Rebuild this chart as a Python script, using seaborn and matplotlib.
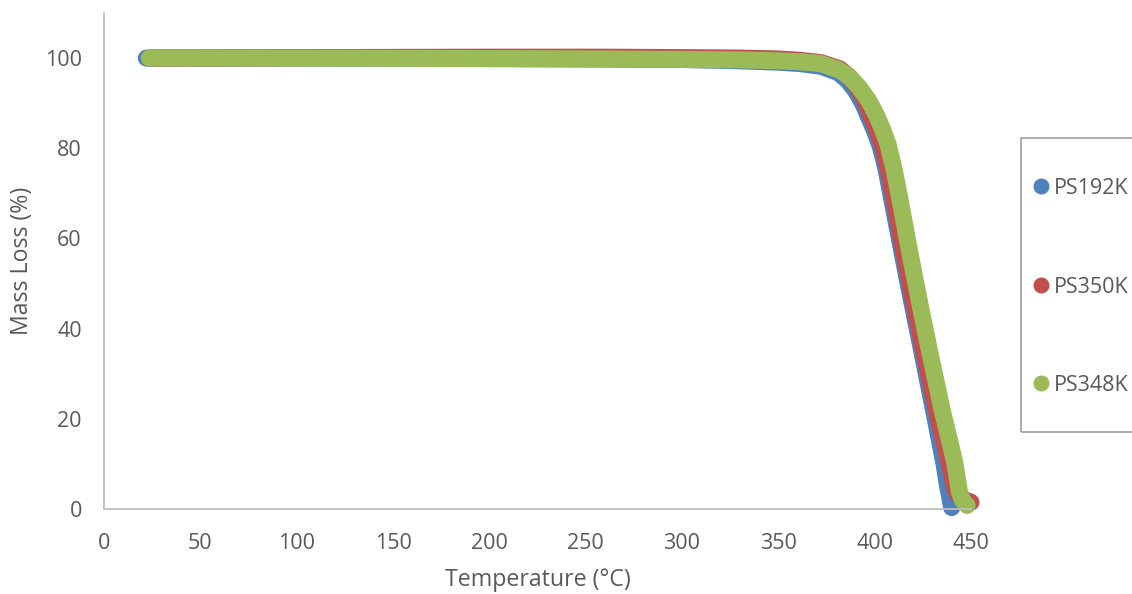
import numpy   as np
import pandas  as pd
import seaborn as sns

from matplotlib         import pyplot as plt
from matplotlib.lines   import Line2D
from matplotlib.patches import Rectangle

sns.set_style("white")
plt.rcParams['font.family'] = ['Open Sans', 'DejaVu Sans']

# TGA curves: temperature (°C) vs mass (%)
temp_192 = [22, 100, 200, 260, 300, 330, 350, 361, 372, 381, 386, 390, 394, 397, 400, 403,
            406, 409, 414, 419, 424, 431, 436, 437.5, 439, 440]
mass_192 = [100, 100, 99.9, 99.8, 99.7, 99.4, 99.1, 98.8, 98.2, 96.8, 95.0, 92.8, 89.8, 86.8, 83.8, 80.3,
            75.2, 68.5, 57.4, 46.5, 36, 21, 10, 6, 2.5, 0.3]

temp_350 = [23.5, 100, 200, 260, 300, 330, 350, 361, 372, 382, 387, 391, 395, 398, 401, 404,
            407, 410, 415, 420, 425, 432, 438.5, 440.5, 442, 444, 447, 450]
mass_350 = [100, 100.1, 100.2, 100.2, 100.1, 100, 99.8, 99.5, 99, 97.6, 95.8, 93.5, 90.5, 87.3, 84.3, 80.8,
            75.5, 69, 57.4, 46.5, 36, 22, 10.5, 6.5, 4, 2.8, 2, 1.5]

temp_348 = [23.5, 100, 200, 260, 300, 330, 350, 361, 372, 382, 387, 392, 397, 401, 404, 407,
            410, 413, 418, 423, 428, 435, 441.5, 443, 444, 445.5, 448]
mass_348 = [100, 100, 99.9, 99.8, 99.7, 99.6, 99.4, 99.2, 98.8, 97.3, 95.8, 93.5, 90.5, 87.3, 84.3, 80.8,
            75.5, 69, 57.4, 46.5, 36, 22, 10.5, 6.5, 3.8, 2, 0.8]

series  = ['PS192K', 'PS350K', 'PS348K']
colors  = ['#4F81BD', '#C0504D', '#9BBB59']
x_ticks = [0, 50, 100, 150, 200, 250, 300, 350, 400, 450]
y_ticks = [0, 20, 40, 60, 80, 100]

data = pd.concat([
    pd.DataFrame({'T': temp_192, 'M': mass_192, 'S': 'PS192K'}),
    pd.DataFrame({'T': temp_350, 'M': mass_350, 'S': 'PS350K'}),
    pd.DataFrame({'T': temp_348, 'M': mass_348, 'S': 'PS348K'}),
])

fig = plt.figure(figsize=(11.32, 5.94), dpi=100)
ax  = fig.add_axes([104/1132, 1-509/594, (971-104)/1132, (509-13)/594])

sns.lineplot(data=data, x='T', y='M', hue='S', hue_order=series,
             palette=colors, linewidth=12.3, legend=False, ax=ax,
             solid_capstyle='round', solid_joinstyle='round', estimator=None)
for l in ax.lines:
    l.set_clip_on(False)

ax.set_xlim(0, 450)
ax.set_ylim(0, 110)
ax.set_xticks(x_ticks)
ax.set_yticks(y_ticks)
ax.tick_params(length=0, labelsize=15.5, labelcolor='#595959')
ax.tick_params(axis='x', pad=17.5)
ax.tick_params(axis='y', pad=16)
for s in ['top', 'right']:
    ax.spines[s].set_visible(False)
for s in ['left', 'bottom']:
    ax.spines[s].set_color('#BFBFBF')
    ax.spines[s].set_linewidth(1.3)

ax.set_xlabel('Temperature (°C)', fontsize=16.7, color='#595959', labelpad=10)
ax.set_ylabel('Mass Loss (%)', fontsize=16.7, color='#595959', labelpad=8)

handles = [Line2D([], [], marker='o', linestyle='', markersize=10.5,
                  markerfacecolor=c, markeredgecolor=c) for c in colors]
fig.legend(handles, series, loc='upper left', frameon=False,
           bbox_to_anchor=(1035/1132, 1-178/594), bbox_transform=fig.transFigure,
           fontsize=15.5, labelcolor='#595959', handlelength=0.6,
           handletextpad=0.3, labelspacing=3.6, borderpad=0, borderaxespad=0)
fig.patches.append(Rectangle((1021/1132, 1-432/594), 0.2, 294/594,
                             transform=fig.transFigure, fill=False,
                             edgecolor='#A6A6A6', linewidth=1.3))

fig.savefig('out.png', dpi=100)
